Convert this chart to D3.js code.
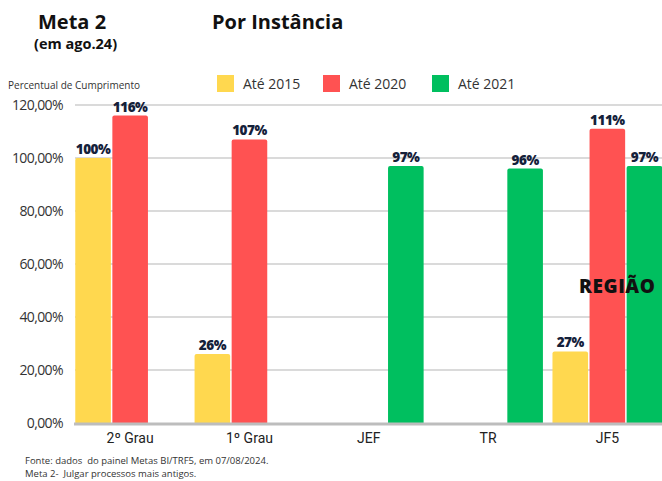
<!DOCTYPE html>
<html>
<head>
<meta charset="utf-8">
<script src="https://cdn.jsdelivr.net/npm/d3@7"></script>
<style>
  body { margin: 0; background: #fff; }
  svg { display: block; font-family: "Open Sans", "DejaVu Sans", sans-serif; }
</style>
</head>
<body>
<div id="chart"></div>
<script>
const width = 662;
const height = 481;

// chart data
const categories = ["2º Grau", "1º Grau", "JEF", "TR", "JF5"];
const seriesNames = ["Até 2015", "Até 2020", "Até 2021"];
const ate2015 = [100, 26, null, null, 27];
const ate2020 = [116, 107, null, null, 111];
const ate2021 = [null, null, 97, 96, 97];
const yTicks = [0, 20, 40, 60, 80, 100, 120];

const colors = ["#FFD84F", "#FF5252", "#00BF5F"];
const seriesValues = [ate2015, ate2020, ate2021];

const svg = d3
  .select("#chart")
  .append("svg")
  .attr("width", width)
  .attr("height", height);

// plot area
const x0 = d3.scaleBand().domain(categories).range([70.5, 667]).paddingInner(0.08).paddingOuter(0.04);
const x1 = d3.scaleBand().domain(seriesNames).range([0, x0.bandwidth()]).paddingInner(0.04);
const y = d3.scaleLinear().domain([0, 120]).range([423, 105]);

// gridlines
svg
  .selectAll(".grid")
  .data(yTicks.filter((d) => d > 0))
  .enter()
  .append("line")
  .attr("x1", 75)
  .attr("x2", width)
  .attr("y1", (d) => y(d))
  .attr("y2", (d) => y(d))
  .attr("stroke", "#dadada")
  .attr("stroke-width", 2);

// y tick labels
svg
  .selectAll(".ytick")
  .data(yTicks)
  .enter()
  .append("text")
  .attr("x", 63)
  .attr("y", (d) => y(d) + 5)
  .attr("text-anchor", "end")
  .style("font-size", "14px")
  .style("fill", "#333")
  .style("letter-spacing", "-0.6px")
  .text((d) => d3.format(".2f")(d).replace(".", ",") + "%");

// bars
const groups = svg
  .selectAll(".group")
  .data(categories)
  .enter()
  .append("g")
  .attr("transform", (d) => `translate(${x0(d)},0)`);

seriesNames.forEach((s, si) => {
  groups
    .filter((d, i) => seriesValues[si][i] != null)
    .append("path")
    .attr("fill", colors[si])
    .attr("d", (d) => {
      const i = categories.indexOf(d);
      const v = seriesValues[si][i];
      const bx = x1(s), bw = x1.bandwidth(), by = y(v), r = 2;
      return `M${bx},${y(0)}V${by + r}Q${bx},${by} ${bx + r},${by}H${bx + bw - r}Q${bx + bw},${by} ${bx + bw},${by + r}V${y(0)}Z`;
    });

  groups
    .filter((d, i) => seriesValues[si][i] != null)
    .append("text")
    .attr("x", x1(s) + x1.bandwidth() / 2)
    .attr("y", (d) => y(seriesValues[si][categories.indexOf(d)]) - 4)
    .attr("text-anchor", "middle")
    .style("font-size", "13.5px")
    .style("font-weight", "800")
    .style("fill", "#14213a")
    .style("letter-spacing", "-0.5px")
    .text((d) => seriesValues[si][categories.indexOf(d)] + "%");
});

// baseline
svg
  .append("line")
  .attr("x1", 74)
  .attr("x2", width)
  .attr("y1", y(0) + 1)
  .attr("y2", y(0) + 1)
  .attr("stroke", "#bdbdbd")
  .attr("stroke-width", 3);

// x labels
svg
  .selectAll(".xlabel")
  .data(categories)
  .enter()
  .append("text")
  .attr("x", (d) => x0(d) + x0.bandwidth() / 2)
  .attr("y", 443)
  .attr("text-anchor", "middle")
  .style("font-family", "'Liberation Sans Narrow', 'Roboto', sans-serif")
  .style("font-size", "14px")
  .style("fill", "#222")
  .text((d) => d);

// titles
svg.append("text").attr("x", 38).attr("y", 29).style("font-size", "20px").style("font-weight", "700").style("fill", "#111").text("Meta 2");
svg.append("text").attr("x", 34).attr("y", 49).style("font-size", "14.5px").style("font-weight", "700").style("fill", "#111").text("(em ago.24)");
svg.append("text").attr("x", 212).attr("y", 29).style("font-size", "20px").style("font-weight", "700").style("fill", "#111").text("Por Instância");
svg.append("text").attr("x", 8).attr("y", 89).style("font-size", "10px").style("fill", "#333").text("Percentual de Cumprimento");

// legend
const legendX = [217, 323, 432];
seriesNames.forEach((s, i) => {
  svg.append("rect").attr("x", legendX[i]).attr("y", 75).attr("width", 17).attr("height", 17).attr("fill", colors[i]);
  svg
    .append("text")
    .attr("x", legendX[i] + 26)
    .attr("y", 89)
    .style("font-size", "14px")
    .style("fill", "#333")
    .text(s);
});

// region label
svg.append("text").attr("x", 579).attr("y", 293).style("font-size", "19px").style("font-weight", "800").style("letter-spacing", "0.6px").style("fill", "#111").text("REGIÃO");

// footer
svg.append("text").attr("x", 25).attr("y", 464).style("font-size", "9.5px").style("white-space", "pre").style("fill", "#333").text("Fonte: dados  do painel Metas BI/TRF5, em 07/08/2024.");
svg.append("text").attr("x", 25).attr("y", 477).style("font-size", "9.5px").style("white-space", "pre").style("fill", "#333").text("Meta 2-  Julgar processos mais antigos.");
</script>
</body>
</html>
